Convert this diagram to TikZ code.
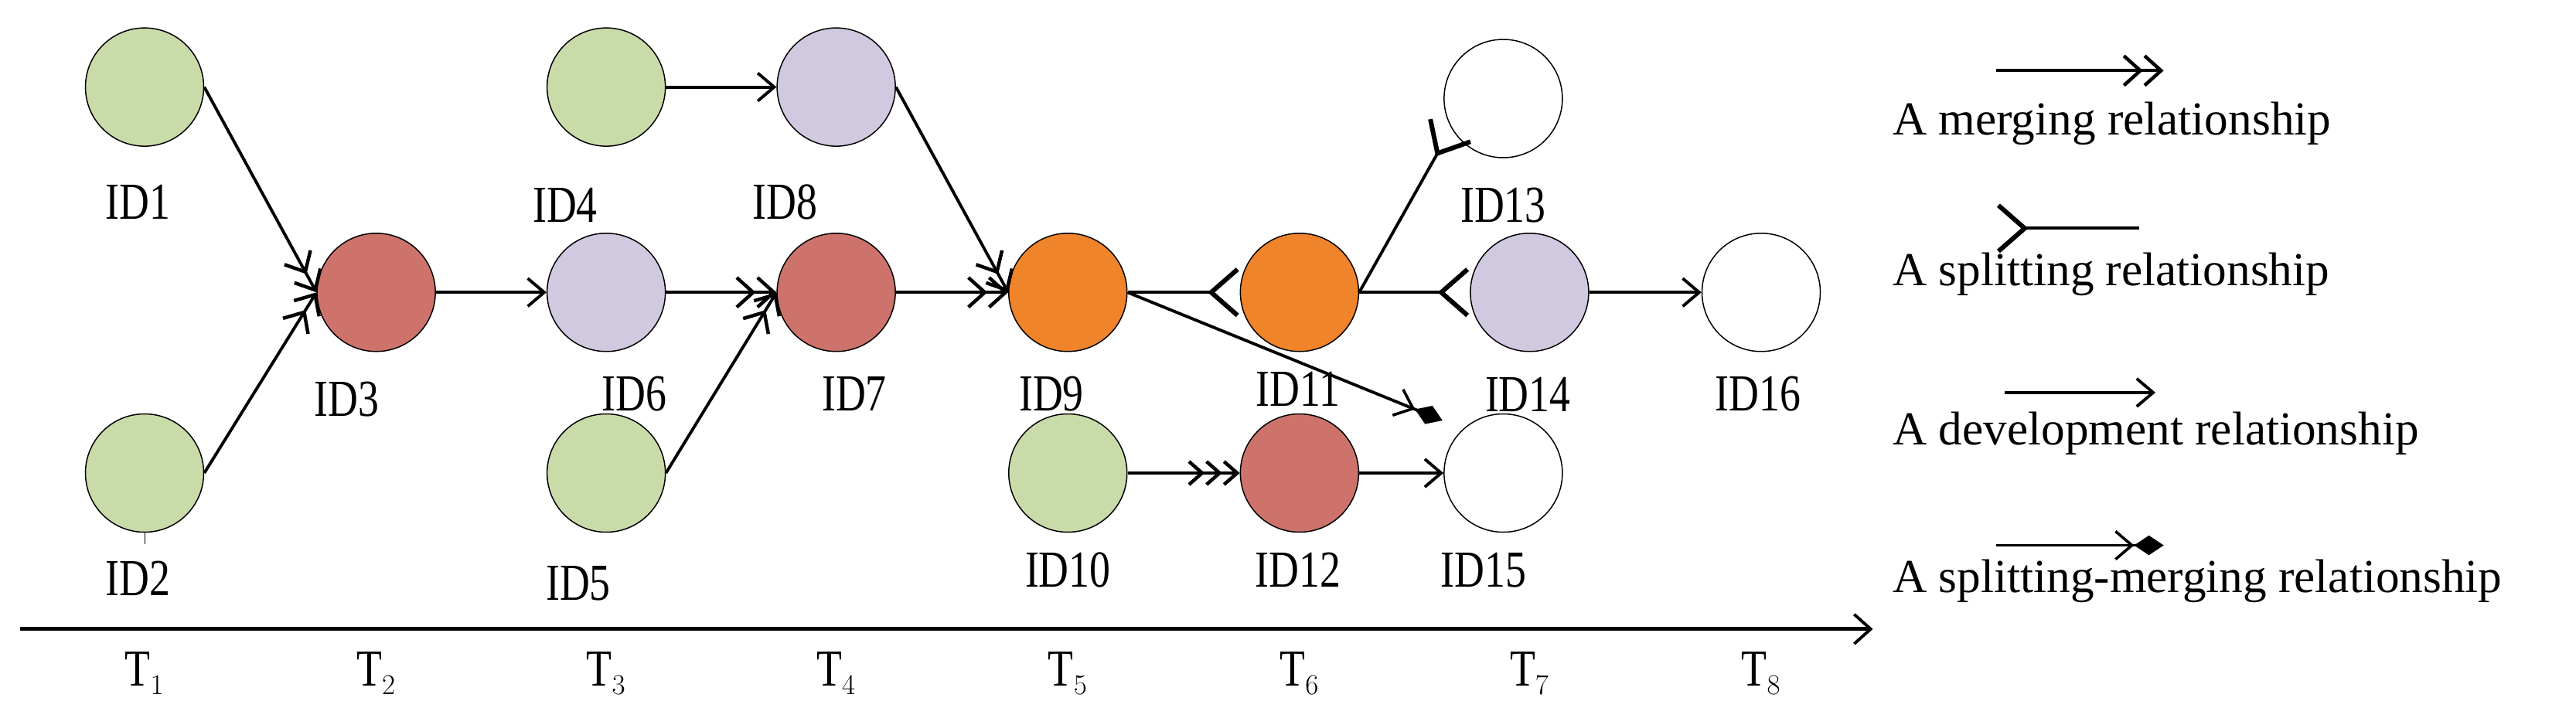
\documentclass[tikz,border=0pt]{standalone}
\usepackage{fontspec}
\setmainfont{Liberation Serif}
\newfontfamily\idfont[FakeStretch=0.8]{Liberation Serif}
\usetikzlibrary{arrows.meta}
\definecolor{cgreen}{HTML}{C9DBA9}
\definecolor{cpurple}{HTML}{D1C9DF}
\definecolor{cred}{HTML}{CD736B}
\definecolor{corange}{HTML}{F0842A}
\begin{document}
\begin{tikzpicture}[x=0.05cm,y=-0.05cm,
  ev/.style={circle,draw,line width=1pt,minimum size=3.6cm,inner sep=0pt},
  lab/.style={font=\idfont\fontsize{45}{45}\selectfont,inner sep=0pt},
  leg/.style={font=\fontsize{41}{41}\selectfont,anchor=west,inner sep=0pt},
  rel/.style={line width=2.6pt},
  dev/.style={rel,-{Straight Barb[length=0.5cm,width=0.85cm,line width=2.6pt]}},
  merg/.style={rel,-{Straight Barb[length=0.5cm,width=0.9cm,line width=3pt]Straight Barb[length=0.5cm,width=0.9cm,line width=3pt]}},
  merg3/.style={rel,-{Straight Barb[length=0.4cm,width=0.7cm,line width=3pt]Straight Barb[length=0.4cm,width=0.7cm,line width=3pt]Straight Barb[length=0.4cm,width=0.7cm,line width=3pt]}},
  splt/.style={rel,-{Straight Barb[reversed,length=0.8cm,width=1.4cm,line width=4pt]}},
  sm/.style={rel,-{Straight Barb[length=0.5cm,width=0.85cm,line width=2.4pt]Diamond[length=0.9cm,width=0.6cm]}}
]
\useasboundingbox (0,0) rectangle (1568,431);
\node[ev,fill=cgreen] (ID1) at (88,53) {};
\node[ev,fill=cgreen] (ID2) at (88,288) {};
\node[ev,fill=cred] (ID3) at (229,178) {};
\node[ev,fill=cgreen] (ID4) at (369,53) {};
\node[ev,fill=cgreen] (ID5) at (369,288) {};
\node[ev,fill=cpurple] (ID6) at (369,178) {};
\node[ev,fill=cred] (ID7) at (509,178) {};
\node[ev,fill=cpurple] (ID8) at (509,53) {};
\node[ev,fill=corange] (ID9) at (650,178) {};
\node[ev,fill=cgreen] (ID10) at (650,288) {};
\node[ev,fill=corange] (ID11) at (791,178) {};
\node[ev,fill=cred] (ID12) at (791,288) {};
\node[ev] (ID13) at (915,60) {};
\node[ev,fill=cpurple] (ID14) at (931,178) {};
\node[ev] (ID15) at (915,288) {};
\node[ev] (ID16) at (1072,178) {};
\foreach \n/\x/\y in {1/84/123,2/84/352,3/211/243,4/344/125,5/352/355,6/386/240,7/520/240,8/478/123,9/640/240,10/650/347,11/790/237,12/790/347,13/915/125,14/930/240,15/903/347,16/1070/240}
  \node[lab] (L\n) at (\x,\y) {ID\n};
\draw[line width=0.6pt] (ID2.south) -- ++(0,7);
% connectors
\draw[merg] (ID1.east) -- (ID3.west);
\draw[merg] (ID2.east) -- (ID3.west);
\draw[dev] (ID3.east) -- (ID6.west);
\draw[dev] (ID4.east) -- (ID8.west);
\draw[merg] (ID6.east) -- (ID7.west);
\draw[merg] (ID5.east) -- (ID7.west);
\draw[merg] (ID7.east) -- (ID9.west);
\draw[merg] (ID8.east) -- (ID9.west);
\draw[splt] (ID9.east) -- (ID11.west);
\draw[splt] (ID11.east) -- (ID14.west);
\draw[splt] (ID11.east) -- (ID13.210);
\draw[dev] (ID14.east) -- (ID16.west);
\draw[merg3] (ID10.east) -- (ID12.west);
\draw[dev] (ID12.east) -- (ID15.west);
\coordinate (smend) at (878,256);
\draw[sm] (ID9.east) -- (smend);
% axis
\coordinate (ax0) at (12,383);
\coordinate (ax1) at (1140,383);
\draw[line width=3.2pt,-{Straight Barb[length=0.5cm,width=0.9cm,line width=2.6pt]}] (ax0) -- (ax1);
\foreach \i/\x in {1/88,2/229,3/369,4/509,5/650,6/791,7/931,8/1072}
  \node[lab] (T\i) at (\x,410) {T$_{\i}$};
% legend
\coordinate (a1) at (1215,43); \coordinate (b1) at (1317,43);
\draw[merg] (a1) -- (b1);
\node[leg] (t1) at (1152,75) {A merging relationship};
\coordinate (a2) at (1215,139); \coordinate (b2) at (1302,139);
\draw[rel,{Straight Barb[reversed,length=0.8cm,width=1.4cm,line width=4pt]}-] (a2) -- (b2);
\node[leg] (t2) at (1152,167) {A splitting relationship};
\coordinate (a3) at (1220,239); \coordinate (b3) at (1312,239);
\draw[dev] (a3) -- (b3);
\node[leg] (t3) at (1152,264) {A development relationship};
\coordinate (a4) at (1215,332); \coordinate (b4) at (1317,332);
\draw[sm] (a4) -- (b4);
\node[leg] (t4) at (1152,354) {A splitting-merging relationship};
\end{tikzpicture}
\end{document}
